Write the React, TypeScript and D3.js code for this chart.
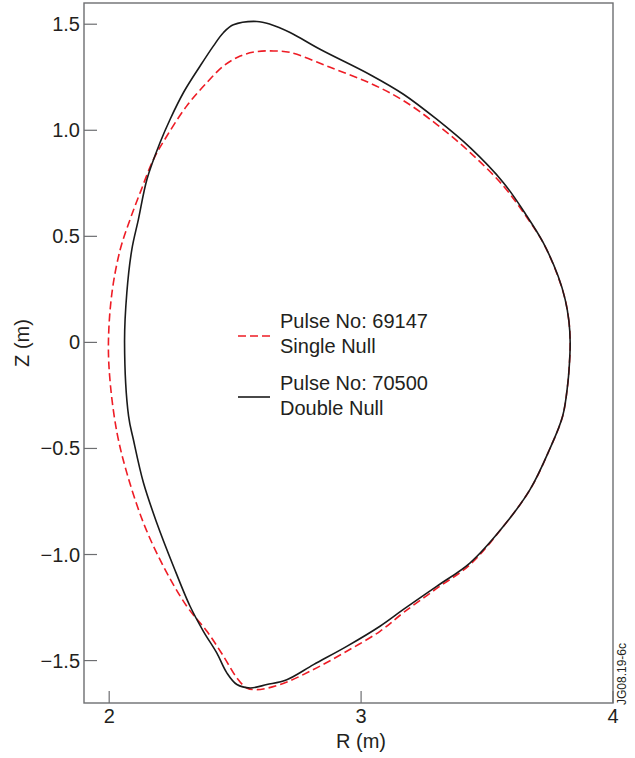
import React from "react";
import * as d3 from "d3";

// Double Null, Pulse No: 70500 (R, Z) in metres
const dnR = [3.830, 3.825, 3.810, 3.782, 3.723, 3.658, 3.565, 3.433, 3.300, 3.168, 3.036, 2.837, 2.718, 2.639, 2.586, 2.493, 2.454, 2.414, 2.361, 2.295, 2.242, 2.202, 2.150, 2.116, 2.090, 2.070, 2.061, 2.077, 2.096, 2.136, 2.189, 2.255, 2.321, 2.374, 2.427, 2.467, 2.507, 2.560, 2.626, 2.705, 2.811, 2.943, 3.075, 3.168, 3.300, 3.433, 3.565, 3.671, 3.748, 3.800, 3.820, 3.827];
const dnZ = [0, 0.100, 0.203, 0.313, 0.470, 0.596, 0.753, 0.918, 1.052, 1.170, 1.262, 1.382, 1.461, 1.500, 1.513, 1.497, 1.461, 1.398, 1.303, 1.178, 1.052, 0.942, 0.769, 0.580, 0.439, 0.234, 0, -0.348, -0.458, -0.662, -0.851, -1.055, -1.244, -1.362, -1.464, -1.558, -1.613, -1.629, -1.613, -1.590, -1.519, -1.433, -1.338, -1.259, -1.150, -1.039, -0.867, -0.693, -0.505, -0.348, -0.200, -0.100];

// Single Null, Pulse No: 69147
const snR = [3.830, 3.825, 3.810, 3.780, 3.722, 3.655, 3.565, 3.433, 3.300, 3.168, 3.036, 2.877, 2.718, 2.652, 2.586, 2.520, 2.454, 2.388, 2.308, 2.229, 2.176, 2.123, 2.083, 2.044, 2.011, 1.997, 2.004, 2.031, 2.070, 2.136, 2.215, 2.308, 2.388, 2.454, 2.507, 2.546, 2.586, 2.679, 2.811, 2.943, 3.075, 3.168, 3.300, 3.433, 3.565, 3.671, 3.748, 3.800, 3.820, 3.827];
const snZ = [0, 0.100, 0.203, 0.316, 0.472, 0.594, 0.737, 0.895, 1.028, 1.140, 1.222, 1.297, 1.367, 1.374, 1.371, 1.350, 1.303, 1.225, 1.115, 0.973, 0.863, 0.706, 0.580, 0.439, 0.234, 0, -0.190, -0.426, -0.615, -0.851, -1.055, -1.244, -1.362, -1.480, -1.582, -1.629, -1.637, -1.613, -1.542, -1.456, -1.362, -1.274, -1.160, -1.047, -0.867, -0.693, -0.505, -0.348, -0.200, -0.100];

const xTicks = [2, 3, 4];
const yTicks = [1.5, 1.0, 0.5, 0, -0.5, -1.0, -1.5];
const yTickLabels = ["1.5", "1.0", "0.5", "0", "\u22120.5", "\u22121.0", "\u22121.5"];

const W = 635, H = 758;
const left = 84, right = 613, top = 3, bottom = 703;
const FONT = "'Liberation Sans', Arial, sans-serif";
const TEXT = "#231f20";
const AXIS = "#6d6e71";
const RED = "#ee1c25";

export default function App() {
  const x = d3.scaleLinear().domain([1.9, 4.0]).range([left, right]);
  const y = d3.scaleLinear().domain([-1.7, 1.6]).range([bottom, top]);
  const line = d3
    .line<[number, number]>()
    .x((d) => x(d[0]))
    .y((d) => y(d[1]))
    .curve(d3.curveCatmullRomClosed.alpha(0.5));
  const dn = dnR.map((r, i) => [r, dnZ[i]] as [number, number]);
  const sn = snR.map((r, i) => [r, snZ[i]] as [number, number]);

  return (
    <svg width={W} height={H} style={{ position: "absolute", left: 0, top: 0, background: "#fff" }} fontFamily={FONT}>
      <path d={line(sn) || ""} fill="none" stroke={RED} strokeWidth={1.6} strokeDasharray="8 4" />
      <path d={line(dn) || ""} fill="none" stroke="#1a1a1a" strokeWidth={1.6} />
      <rect x={left} y={top} width={right - left} height={bottom - top} fill="none" stroke={AXIS} strokeWidth={1.4} />
      {xTicks.map((t) => (
        <g key={"x" + t}>
          <line x1={x(t)} x2={x(t)} y1={bottom} y2={bottom - 12} stroke={AXIS} strokeWidth={1.2} />
          <text x={x(t)} y={723} textAnchor="middle" fontSize={20} fill={TEXT}>{t}</text>
        </g>
      ))}
      {yTicks.map((t, i) => (
        <g key={"y" + t}>
          <line x1={left} x2={left + 13} y1={y(t)} y2={y(t)} stroke={AXIS} strokeWidth={1.2} />
          <text x={80} y={y(t) + 7} textAnchor="end" fontSize={20} fill={TEXT}>{yTickLabels[i]}</text>
        </g>
      ))}
      <text x={361} y={748} textAnchor="middle" fontSize={20} fill={TEXT}>R (m)</text>
      <text transform="translate(29,343) rotate(-90)" textAnchor="middle" fontSize={20} fill={TEXT}>Z (m)</text>
      <text transform="translate(625.5,674) rotate(-90)" textAnchor="middle" fontSize={12} fill={TEXT}>JG08.19-6c</text>
      <line x1={238} x2={270} y1={336} y2={336} stroke={RED} strokeWidth={1.6} strokeDasharray="8 4" />
      <text x={280} y={328} fontSize={20} fill={TEXT}>Pulse No: 69147</text>
      <text x={280} y={353} fontSize={20} fill={TEXT}>Single Null</text>
      <line x1={238} x2={270} y1={397} y2={397} stroke="#1a1a1a" strokeWidth={1.6} />
      <text x={280} y={390} fontSize={20} fill={TEXT}>Pulse No: 70500</text>
      <text x={280} y={415} fontSize={20} fill={TEXT}>Double Null</text>
    </svg>
  );
}
